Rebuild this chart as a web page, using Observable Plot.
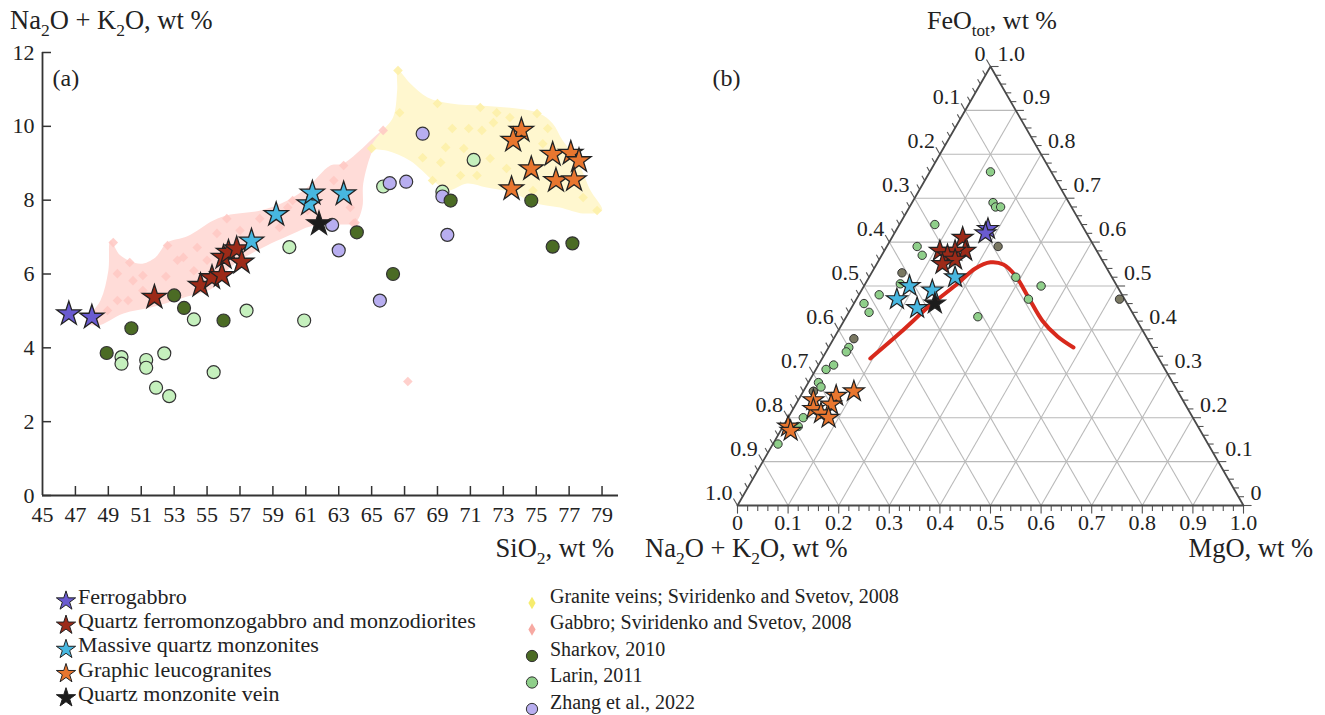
<!DOCTYPE html>
<html><head><meta charset="utf-8">
<script src="https://cdn.jsdelivr.net/npm/d3@7"></script>
<script src="https://cdn.jsdelivr.net/npm/@observablehq/plot@0.6"></script>
<style>
body{margin:0;background:#fff;}
#wrap{position:relative;width:1325px;height:715px;overflow:hidden;background:#fff;}
#pa{position:absolute;left:0;top:0;}
#pb{position:absolute;left:640px;top:0;}
#legend{position:absolute;left:0;top:580px;}
</style></head><body>
<div id="wrap"><div id="pa"></div><div id="pb"></div><div id="legend"></div></div>
<script>
// ---------------- Panel (a) data: [SiO2, Na2O+K2O] ----------------
const xTicksA = [45,47,49,51,53,55,57,59,61,63,65,67,69,71,73,75,77,79];
const yTicksA = [0,2,4,6,8,10,12];
const ferrogabbroA = [[46.6,4.92],[48.0,4.83]];
const qfmA = [[51.8,5.37],[54.6,5.69],[55.3,5.90],[55.9,5.96],[56.0,6.45],[56.3,6.59],[56.8,6.68],[57.1,6.32]];
const massiveA = [[57.7,6.89],[59.2,7.61],[61.2,7.90],[61.4,8.19],[63.3,8.17]];
const leucoA = [[74.1,9.89],[73.6,9.62],[73.5,8.31],[74.7,8.85],[76.0,9.24],[77.1,9.27],[77.6,9.07],[76.2,8.53],[77.3,8.55]];
const veinA = [[61.8,7.36]];
const sharkovA = [[53.0,5.42],[53.6,5.08],[50.4,4.53],[48.9,3.86],[56.0,4.74],[64.1,7.13],[69.8,7.99],[66.3,6.0],[74.7,7.99],[76.0,6.74],[77.2,6.83]];
const larinA = [[54.2,4.77],[57.4,5.01],[60.0,6.73],[60.9,4.74],[49.8,3.75],[49.8,3.57],[51.3,3.67],[51.3,3.46],[52.4,3.85],[51.9,2.92],[52.7,2.69],[55.4,3.34],[65.7,8.37],[71.2,9.09],[69.3,8.23]];
const zhangA = [[62.6,7.33],[63.0,6.64],[65.5,5.28],[68.1,9.80],[66.1,8.46],[67.1,8.50],[69.3,8.10],[69.6,7.06]];
const gabbroField = [[49.13,6.91],[49.74,6.50],[50.95,6.28],[51.86,6.45],[52.59,6.85],[53.8,7.02],[55.38,7.45],[56.41,7.61],[58.24,7.72],[59.88,7.99],[61.09,8.34],[62.49,8.94],[63.28,8.99],[65.7,9.89],[65.04,9.34],[64.49,8.45],[64.43,7.8],[64.0,7.39],[62.79,7.34],[61.27,7.29],[60.24,7.10],[58.05,6.64],[56.41,6.18],[55.38,5.63],[53.56,5.36],[51.56,5.09],[49.92,4.93],[48.34,4.60],[47.61,4.69],[48.52,5.28],[49.0,6.09]];
const graniteField = [[66.6,11.51],[67.35,11.16],[68.4,10.78],[69.8,10.62],[71.8,10.56],[73.8,10.48],[75.2,10.35],[76.0,10.08],[76.6,9.62],[77.5,9.07],[78.3,8.26],[79.0,7.72],[77.85,7.64],[76.45,7.8],[74.8,7.94],[73.6,8.2],[72.0,8.34],[70.8,8.45],[69.6,8.26],[68.74,8.53],[67.34,9.07],[65.95,9.34],[65.0,9.43],[65.5,9.8],[66.3,10.24],[66.55,10.97]];
const gabbroPts = [[49.3,6.85],[50.3,6.31],[49.55,6.01],[50.5,5.82],[51.1,5.96],[52.6,6.77],[53.2,6.37],[53.56,6.45],[54.4,6.72],[52.5,5.93],[51.1,5.55],[49.55,5.28],[48.95,5.01],[48.1,4.93],[50.2,5.28],[55.6,7.1],[56.2,7.5],[57.0,7.18],[58.2,7.5],[59.4,7.26],[61.1,7.72],[63.7,7.8],[63.9,7.37],[54.2,6.09],[55.0,6.37],[63.3,8.94],[62.7,8.53],[65.7,9.89],[64.0,7.39],[59.9,7.8],[60.2,7.99],[67.2,3.09]];
const granitePts = [[66.6,11.51],[69.0,10.62],[66.7,10.37],[71.6,10.51],[72.6,10.37],[73.4,10.24],[75.05,10.35],[69.9,9.94],[70.9,9.94],[71.7,9.89],[72.4,10.1],[69.5,9.43],[70.6,9.4],[68.1,9.15],[69.2,9.02],[72.2,9.13],[73.2,8.86],[70.4,8.67],[71.4,8.67],[68.7,8.53],[74.8,8.26],[75.7,9.94],[75.4,9.53],[78.7,7.72],[77.85,8.07],[65.0,9.4]];

// ---------------- Panel (b) data: [Na2O+K2O, FeOtot, MgO] fractions ----------------
const ternVals = [0,0.1,0.2,0.3,0.4,0.5,0.6,0.7,0.8,0.9,1.0];
const ternLabels = ["0","0.1","0.2","0.3","0.4","0.5","0.6","0.7","0.8","0.9","1.0"];
const ferrogabbroT = [[0.19,0.63,0.18],[0.20,0.62,0.18]];
const qfmT = [[0.25,0.61,0.14],[0.31,0.58,0.11],[0.26,0.58,0.16],[0.28,0.58,0.14],[0.30,0.57,0.13],[0.29,0.56,0.15],[0.32,0.55,0.13]];
const massiveT = [[0.31,0.52,0.17],[0.41,0.50,0.09],[0.37,0.49,0.14],[0.45,0.47,0.08],[0.42,0.45,0.13]];
const veinT = [[0.38,0.46,0.16]];
const leucoT = [[0.64,0.26,0.10],[0.68,0.25,0.07],[0.73,0.24,0.03],[0.74,0.22,0.04],[0.70,0.23,0.07],[0.73,0.21,0.06],[0.72,0.20,0.08],[0.81,0.18,0.01],[0.81,0.17,0.02]];
const larinT = [[0.12,0.76,0.12],[0.15,0.69,0.16],[0.15,0.68,0.17],[0.14,0.68,0.18],[0.29,0.64,0.07],[0.35,0.59,0.06],[0.35,0.57,0.08],[0.19,0.52,0.29],[0.15,0.50,0.35],[0.19,0.47,0.34],[0.31,0.43,0.26],[0.43,0.51,0.07],[0.48,0.48,0.04],[0.52,0.46,0.02],[0.52,0.44,0.04],[0.60,0.36,0.04],[0.61,0.35,0.04],[0.65,0.32,0.03],[0.67,0.31,0.02],[0.70,0.28,0.02],[0.70,0.27,0.03],[0.72,0.26,0.02],[0.77,0.20,0.03],[0.79,0.18,0.03],[0.85,0.14,0.01]];
const sharkovT = [[0.19,0.59,0.22],[0.41,0.53,0.06],[0.01,0.47,0.52],[0.58,0.38,0.04],[0.72,0.26,0.02]];
const boundaryT = [[0.57,0.335,0.095],[0.481,0.394,0.125],[0.391,0.456,0.153],[0.319,0.501,0.180],[0.260,0.540,0.200],[0.223,0.554,0.223],[0.200,0.549,0.251],[0.189,0.524,0.287],[0.188,0.474,0.338],[0.187,0.421,0.392],[0.175,0.385,0.440],[0.156,0.360,0.484]];

// ---------------- legend ----------------
const legendStars = ["Ferrogabbro","Quartz ferromonzogabbro and monzodiorites","Massive quartz monzonites","Graphic leucogranites","Quartz monzonite vein"];
const legendOthers = ["Granite veins; Sviridenko and Svetov, 2008","Gabbro; Sviridenko and Svetov, 2008","Sharkov, 2010","Larin, 2011","Zhang et al., 2022"];

// colours
const C = {ferro:"#6a5bd0", qfm:"#9c2a18", massive:"#47b7e0", leuco:"#e8762f", vein:"#1c1c1c",
  sharkov:"#4b6b24", larin:"#c5f0bd", larinT:"#8fcf8a", sharkovT:"#7a7862", zhang:"#b8aef0",
  granite:"#f6ec6e", gabbro:"#f7a9a2"};
const font = '"Liberation Serif","Times New Roman",serif';

function rich(svg, x, y, parts, anchor, size) {
  const t = d3.select(svg).append("text").attr("x", x).attr("y", y)
    .attr("text-anchor", anchor).attr("font-size", size).attr("font-family", font).attr("fill", "#222");
  let shift = 0;
  parts.forEach(p => {
    if (typeof p === "string") { t.append("tspan").attr("dy", -shift).text(p); shift = 0; }
    else { t.append("tspan").attr("dy", size*0.26 - shift).attr("font-size", size*0.66).text(p.sub); shift = size*0.26; }
  });
}

// ---------------- Panel (a) ----------------
const X = d => d[0], Y = d => d[1];
const pa = Plot.plot({
  width: 640, height: 580,
  marginLeft: 42, marginRight: 22, marginTop: 52, marginBottom: 85,
  x: {domain: [45, 80]}, y: {domain: [0, 12]},
  style: {fontFamily: font, fontSize: "22px", color: "#222", background: "transparent"},
  marks: [
    Plot.line(gabbroField, {x: X, y: Y, fill: "#ffdcd8", stroke: "none", curve: "catmull-rom-closed"}),
    Plot.line(graniteField, {x: X, y: Y, fill: "#fff7cf", stroke: "none", curve: "catmull-rom-closed"}),
    Plot.dot(gabbroPts, {x: X, y: Y, symbol: "diamond2", r: 4.3, fill: "#ffc8c3", fillOpacity: 0.85}),
    Plot.dot(granitePts, {x: X, y: Y, symbol: "diamond2", r: 4.3, fill: "#fdf0a8", fillOpacity: 0.9}),
    Plot.ruleX([45], {y1: 0, y2: 12, stroke: "#333", strokeWidth: 1.8}),
    Plot.ruleY([0], {x1: 45, x2: 80, stroke: "#333", strokeWidth: 1.8}),
    Plot.tickY(yTicksA, {y: d => d, insetRight: 576 - 9, stroke: "#333", strokeWidth: 1.5}),
    Plot.tickX(xTicksA.slice(1), {x: d => d, insetTop: 443 - 9, stroke: "#333", strokeWidth: 1.5}),
    Plot.axisY(yTicksA, {tickSize: 0, tickPadding: 8, label: null}),
    Plot.axisX(xTicksA, {tickSize: 0, tickPadding: 11, label: null}),
    Plot.dot(larinA, {x: X, y: Y, r: 6.5, fill: C.larin, stroke: "#333", strokeWidth: 1.2}),
    Plot.dot(zhangA, {x: X, y: Y, r: 6.5, fill: C.zhang, stroke: "#333", strokeWidth: 1.2}),
    Plot.dot(sharkovA, {x: X, y: Y, r: 6.5, fill: C.sharkov, stroke: "#333", strokeWidth: 1.2}),
    Plot.dot(ferrogabbroA, {x: X, y: Y, symbol: "star", r: 7.6, fill: C.ferro, stroke: "#222", strokeWidth: 1.3}),
    Plot.dot(qfmA, {x: X, y: Y, symbol: "star", r: 7.6, fill: C.qfm, stroke: "#222", strokeWidth: 1.3}),
    Plot.dot(massiveA, {x: X, y: Y, symbol: "star", r: 7.6, fill: C.massive, stroke: "#222", strokeWidth: 1.3}),
    Plot.dot(leucoA, {x: X, y: Y, symbol: "star", r: 7.6, fill: C.leuco, stroke: "#222", strokeWidth: 1.3}),
    Plot.dot(veinA, {x: X, y: Y, symbol: "star", r: 7.6, fill: C.vein, stroke: "#222", strokeWidth: 1.3}),
    Plot.text(["(a)"], {frameAnchor: "top-left", dx: 10, dy: 26, textAnchor: "start", lineAnchor: "middle", fontSize: 24})
  ]
});
document.getElementById("pa").appendChild(pa);
rich(pa, 10, 29, ["Na", {sub: "2"}, "O + K", {sub: "2"}, "O, wt %"], "start", 26.5);
rich(pa, 614, 557, ["SiO", {sub: "2"}, ", wt %"], "end", 26.5);

// ---------------- Panel (b) ----------------
const S3 = Math.sqrt(3) / 2;
const tx = d => { const s = d[0] + d[1] + d[2]; return d[2] / s + d[1] / s / 2; };
const ty = d => { const s = d[0] + d[1] + d[2]; return d[1] / s * S3; };
const gridSegs = [];
ternVals.slice(1, 10).forEach(k => {
  gridSegs.push([[1 - k, k, 0], [0, k, 1 - k]]);
  gridSegs.push([[1 - k, 0, k], [0, 1 - k, k]]);
  gridSegs.push([[k, 0, 1 - k], [k, 1 - k, 0]]);
});
const tickSegs = [];
d3.range(0, 51).forEach(i => {
  const v = i / 50, L = i % 5 === 0 ? 0.016 : 0.011;
  let p = [1 - v, 0, v];
  tickSegs.push([tx(p), ty(p), tx(p), ty(p) - L]);
  p = [v, 1 - v, 0];
  tickSegs.push([tx(p), ty(p), tx(p) - 0.5 * L, ty(p) + S3 * L]);
  p = [0, v, 1 - v];
  tickSegs.push([tx(p), ty(p), tx(p) + L, ty(p)]);
});
const triangle = [[1, 0, 0], [0, 1, 0], [0, 0, 1], [1, 0, 0]];
const labs = ternVals.map((v, i) => ({v, t: ternLabels[i]}));
const TX = d => tx(d), TY = d => ty(d);
const pb = Plot.plot({
  width: 685, height: 580,
  marginLeft: 97, marginRight: 82, marginTop: 66, marginBottom: 75,
  x: {domain: [0, 1], axis: null}, y: {domain: [0, S3], axis: null},
  style: {fontFamily: font, fontSize: "22px", color: "#222", background: "transparent"},
  marks: [
    Plot.link(gridSegs, {x1: d => tx(d[0]), y1: d => ty(d[0]), x2: d => tx(d[1]), y2: d => ty(d[1]), stroke: "#b9b9b9", strokeWidth: 1.1}),
    Plot.link(tickSegs, {x1: d => d[0], y1: d => d[1], x2: d => d[2], y2: d => d[3], stroke: "#555", strokeWidth: 1.1}),
    Plot.line(triangle, {x: TX, y: TY, stroke: "#4a4a4a", strokeWidth: 1.8}),
    Plot.text(labs, {x: d => tx([d.v, 1 - d.v, 0]), y: d => ty([d.v, 1 - d.v, 0]), text: "t", textAnchor: "end", dx: -5, dy: -13}),
    Plot.text(labs, {x: d => tx([0, d.v, 1 - d.v]), y: d => ty([0, d.v, 1 - d.v]), text: "t", textAnchor: "start", dx: 7, dy: -13}),
    Plot.text(labs, {x: d => tx([1 - d.v, 0, d.v]), y: d => ty([1 - d.v, 0, d.v]), text: "t", dy: 17}),
    Plot.line(boundaryT, {x: TX, y: TY, stroke: "#d8291c", strokeWidth: 4, curve: "catmull-rom"}),
    Plot.dot(larinT, {x: TX, y: TY, r: 4.2, fill: C.larinT, stroke: "#333", strokeWidth: 1}),
    Plot.dot(sharkovT, {x: TX, y: TY, r: 4.2, fill: C.sharkovT, stroke: "#333", strokeWidth: 1}),
    Plot.dot(ferrogabbroT, {x: TX, y: TY, symbol: "star", r: 6.6, fill: C.ferro, stroke: "#222", strokeWidth: 1.2}),
    Plot.dot(qfmT, {x: TX, y: TY, symbol: "star", r: 6.6, fill: C.qfm, stroke: "#222", strokeWidth: 1.2}),
    Plot.dot(massiveT, {x: TX, y: TY, symbol: "star", r: 6.6, fill: C.massive, stroke: "#222", strokeWidth: 1.2}),
    Plot.dot(leucoT, {x: TX, y: TY, symbol: "star", r: 6.6, fill: C.leuco, stroke: "#222", strokeWidth: 1.2}),
    Plot.dot(veinT, {x: TX, y: TY, symbol: "star", r: 6.6, fill: C.vein, stroke: "#222", strokeWidth: 1.2}),
    Plot.text(["(b)"], {frameAnchor: "top-left", dx: -25, dy: 12, textAnchor: "start", lineAnchor: "middle", fontSize: 24})
  ]
});
document.getElementById("pb").appendChild(pb);
rich(pb, 352, 29, ["FeO", {sub: "tot"}, ", wt %"], "middle", 26);
rich(pb, 5, 557, ["Na", {sub: "2"}, "O + K", {sub: "2"}, "O, wt %"], "start", 26.5);
rich(pb, 673, 557, ["MgO, wt %"], "end", 26.5);

// ---------------- Legend ----------------
const lg = d3.select("#legend").append("svg").attr("width", 1325).attr("height", 135)
  .attr("font-family", font).attr("fill", "#222");
const starFills = [C.ferro, C.qfm, C.massive, C.leuco, C.vein];
legendStars.forEach((lab, i) => {
  const y = 19 + i * 24.2;
  lg.append("path").attr("transform", `translate(66,${y + 2})`).attr("d", d3.symbol(d3.symbolStar, 115)())
    .attr("fill", starFills[i]).attr("stroke", "#222").attr("stroke-width", 1);
  lg.append("text").attr("x", 78).attr("y", y).attr("font-size", 22).attr("dominant-baseline", "middle").text(lab);
});
const otherFills = [C.granite, C.gabbro, C.sharkov, "#8fcf8a", C.zhang];
legendOthers.forEach((lab, i) => {
  const y = 18 + i * 26.5;
  const icon = i < 2 ? d3.symbol(d3.symbolDiamond, 45)() : d3.symbol(d3.symbolCircle, 100)();
  lg.append("path").attr("transform", `translate(532,${y + 5})`).attr("d", icon)
    .attr("fill", otherFills[i]).attr("stroke", i < 2 ? "none" : "#333").attr("stroke-width", 1);
  lg.append("text").attr("x", 550).attr("y", y).attr("font-size", 20).attr("dominant-baseline", "middle").text(lab);
});
</script>
</body></html>
